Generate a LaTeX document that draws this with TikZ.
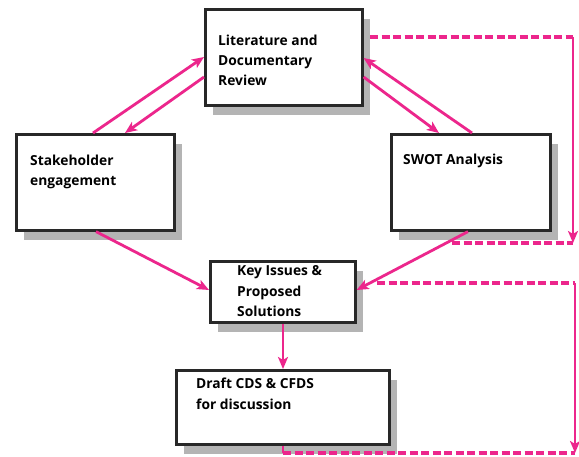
\documentclass[tikz,border=0pt]{standalone}
\usepackage{fontspec}
\setmainfont{Open Sans}
\usetikzlibrary{arrows.meta,shadows}
\definecolor{pk}{RGB}{236,38,140}
\definecolor{shc}{RGB}{180,180,180}
\definecolor{bd}{RGB}{40,40,40}
\begin{document}
\begin{tikzpicture}[x=1pt,y=-1pt,
  box/.style={draw=bd, line width=2.6pt, fill=white, anchor=north west, inner sep=0pt,
    drop shadow={shadow xshift=8pt, shadow yshift=-10pt, fill=shc, opacity=1}},
  txt/.style={anchor=base west, inner sep=0pt, align=left, font=\bfseries\fontsize{13.8}{20.5}\selectfont},
  conn/.style={draw=pk, line width=2.8pt, -{Stealth[length=12pt,width=10pt,inset=3pt]}},
  plain/.style={draw=pk, line width=2.8pt},
  dsh/.style={draw=pk, line width=3.4pt, dash pattern=on 8pt off 3.5pt}
]
\useasboundingbox (0,0) rectangle (579,456);
\fill[white] (0,0) rectangle (579,456);

\node[box, minimum width=157pt, minimum height=96pt] (lit) at (204,8) {};
\node[box, minimum width=158pt, minimum height=96pt] (stk) at (15,133) {};
\node[box, minimum width=159pt, minimum height=96pt] (swot) at (390,133) {};
\node[box, minimum width=145pt, minimum height=61pt] (key) at (209,260) {};
\node[box, minimum width=213pt, minimum height=74pt] (draft) at (175,369) {};

\node[txt] (tlit) at (218,45) {Literature and};
\node[txt] (tlit2) at (218,65) {Documentary};
\node[txt] (tlit3) at (218,85) {Review};
\node[txt] (tstk) at (30,165) {Stakeholder};
\node[txt] (tstk2) at (30,185) {engagement};
\node[txt] (tswot) at (403,164) {SWOT Analysis};
\node[txt] (tkey) at (237,275) {Key Issues \&};
\node[txt] (tkey2) at (237,296) {Proposed};
\node[txt] (tkey3) at (237,316) {Solutions};
\node[txt] (tdr) at (196,388) {Draft CDS \& CFDS};
\node[txt] (tdr2) at (196,409) {for discussion};

% solid connectors
\draw[conn] (93,0 |- stk.north) -- (lit.west |- 0,57);
\draw[conn] (lit.west |- 0,77) -- (125,0 |- stk.north);
\draw[conn] (472,0 |- swot.north) -- (lit.east |- 0,58);
\draw[conn] (lit.east |- 0,77) -- (439,0 |- swot.north);
\draw[conn] (96,0 |- stk.south) -- (key.west |- 0,290);
\draw[conn] (468,0 |- swot.south) -- (key.east |- 0,290);
\draw[conn] (283,0 |- key.south) -- (283,0 |- draft.north);

% feedback loops
\coordinate (a1) at (370,37);
\coordinate (a2) at (573,37);
\coordinate (a3) at (573,243);
\coordinate (a4) at (452,243);
\draw[dsh] (a1) -- (a2);
\draw[conn] (a2) -- (a3);
\draw[dsh] (a4) -- (a3);

\coordinate (b1) at (377,283);
\coordinate (b2) at (575,283);
\coordinate (b3) at (575,453);
\coordinate (b4) at (283,453);
\draw[dsh] (b1) -- (b2);
\draw[conn] (b2) -- (b3);
\draw[plain] (283,0 |- draft.south) -- (b4);
\draw[dsh] (b4) -- (b3);
\end{tikzpicture}
\end{document}
